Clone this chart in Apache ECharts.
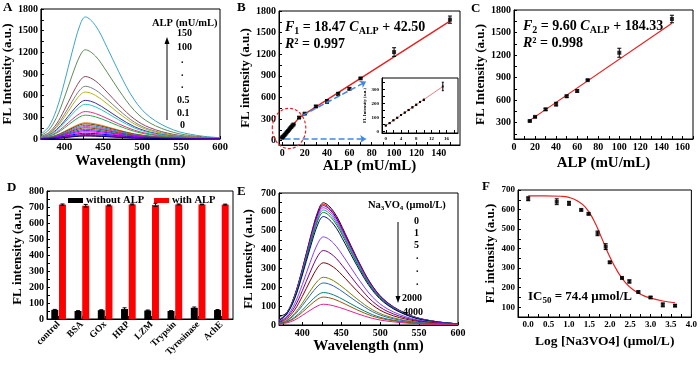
<!DOCTYPE html>
<html>
<head>
<meta charset="utf-8">
<script src="https://cdn.jsdelivr.net/npm/echarts@6/dist/echarts.min.js"></script>
<style>
html,body{margin:0;padding:0;background:#fff;}
#main{width:700px;height:365px;}
</style>
</head>
<body>
<div id="main"></div>
<script>
var FONT = '"Liberation Serif","Times New Roman",serif';

// A: emission spectra vs ALP
var waveA = [370,380,390,400,410,420,427,440,455,470,490,510,540,570,600];
var specA = [
	[68,169,406,777,1200,1572,1690,1572,1268,930,541,304,127,51,17],
	[49,124,296,568,877,1149,1235,1149,926,679,395,222,93,37,12],
	[35,87,208,398,614,804,865,804,649,476,277,156,65,26,9],
	[29,73,175,336,518,679,730,679,548,402,234,131,55,22,7],
	[26,65,156,299,462,605,650,605,488,358,208,117,49,20,7],
	[21,54,128,246,380,498,535,498,401,294,171,96,40,16,5],
	[19,48,115,221,341,446,480,446,360,264,154,86,36,14,5],
	[15,38,91,175,270,353,380,353,285,209,122,68,29,11,4],
	[13,33,79,152,234,307,330,307,248,182,106,59,25,10,3],
	[9,23,54,104,160,209,225,209,169,124,72,41,17,7,2],
	[8,21,50,97,149,195,210,195,158,116,67,38,16,6,2],
	[8,19,46,87,135,177,190,177,143,105,61,34,14,6,2],
	[7,17,41,79,122,160,172,160,129,95,55,31,13,5,2],
	[6,16,37,71,110,144,155,144,116,85,50,28,12,5,2],
	[5,14,32,62,96,126,135,126,101,74,43,24,10,4,1],
	[5,12,28,54,83,109,117,109,88,64,37,21,9,4,1],
	[4,10,24,46,71,93,100,93,75,55,32,18,8,3,1],
	[3,8,19,37,57,74,80,74,60,44,26,14,6,2,1],
	[2,6,15,29,44,58,62,58,47,34,20,11,5,2,1],
	[2,5,12,24,37,48,52,48,39,29,17,9,4,2,1],
	[2,5,11,21,32,42,45,42,34,25,14,8,3,1,0],
	[2,4,10,19,30,39,42,39,32,23,13,8,3,1,0]
];
var colorsA = ['#3ba5c4','#5e8c5a','#8b4a5a','#808080','#b5b520','#3a2fa0','#2ec4c4','#e0308a','#22b04a',
	'#e08020','#7b3f00','#2080d0','#c040c0','#804000','#008080','#8000ff','#ff00ff','#0000ff','#800080','#c000c0','#a020f0','#000080'];

// B: calibration, full range
var alpB = [0,0.1,0.5,1,2,3,4,5,6,7,8,9,10,15,20,30,40,50,60,70,100,150];
var flB  = [42,45,52,60,80,98,117,135,153,172,190,210,225,320,375,475,545,650,720,865,1230,1680];
var errB = [3,3,3,3,3,3,4,4,4,4,4,5,5,12,10,15,25,20,15,10,60,50];
var fitBx = [0,15,150];
var fitBy = [42.5,319.6,1660];

// B inset: low range
var alpIn = [0,1,2,3,4,5,6,7,8,9,10,15];
var flIn  = [43,60,80,98,117,135,153,172,190,210,225,320];
var errIn = [3,3,3,3,3,3,4,4,4,4,5,30];
var fitInx = [0,15];
var fitIny = [42.5,319.6];

// C: calibration, high range
var alpC = [15,20,30,40,50,60,70,100,150];
var flC  = [320,375,475,545,650,720,865,1230,1680];
var errC = [10,10,15,25,15,15,10,60,50];
var fitCx = [15,150];
var fitCy = [328.3,1624.3];

// D: selectivity
var enzymes = ['control','BSA','GOx','HRP','LZM','Trypsin','Tyrosinase','AchE'];
var withoutALP = [57,50,55,62,53,50,70,56];
var withoutErr = [3,2,3,8,3,2,5,3];
var withALP = [715,708,710,716,713,716,716,715];
var withErr = [4,8,3,3,10,3,2,3];

// E: spectra vs Na3VO4
var waveE = [370,380,390,400,410,420,427,440,455,470,490,510,540,570,600];
var specE = [
	[45,65,156,298,460,603,648,603,486,356,207,117,49,19,6],
	[26,64,154,294,454,595,640,595,480,352,205,115,48,19,6],
	[25,63,152,291,449,589,633,589,475,348,203,114,47,19,6],
	[25,62,149,286,442,578,622,578,467,342,199,112,47,19,6],
	[24,61,146,281,433,567,610,567,458,336,195,110,46,18,6],
	[24,60,143,275,424,555,597,555,448,328,191,107,45,18,6],
	[23,58,138,265,408,535,575,535,431,316,184,104,43,17,6],
	[19,47,112,215,332,434,467,434,350,257,149,84,35,14,5],
	[16,40,95,182,280,367,395,367,296,217,126,71,30,12,4],
	[13,33,79,152,234,307,330,307,248,182,106,59,25,10,3],
	[10,25,61,116,180,235,253,235,190,139,81,46,19,8,3],
	[9,22,54,103,158,207,223,207,167,123,71,40,17,7,2],
	[7,17,41,79,122,160,172,160,129,95,55,31,13,5,2],
	[6,15,36,68,105,138,148,138,111,81,47,27,11,4,1],
	[4,11,26,51,78,102,110,102,83,61,35,20,8,3,1]
];
var colorsE = ['#000000','#ff0000','#0000ff','#ff00ff','#00a0a0','#008000','#000080','#8040ff','#800080',
	'#800000','#808000','#3060c0','#008080','#a05000','#e0208e'];

// F: inhibition
var logV = [0,0.7,1.0,1.3,1.48,1.7,1.9,2.0,2.3,2.48,2.7,3.0,3.3,3.6];
var flF  = [655,640,632,598,578,478,410,330,250,232,178,150,112,108];
var errF = [10,15,10,5,5,12,15,5,5,8,5,5,10,5];
var fitFx = [0,0.4,0.8,1.0,1.2,1.4,1.6,1.8,2.0,2.2,2.4,2.6,2.8,3.0,3.3,3.6];
var fitFy = [670,670,668,662,645,612,548,455,358,280,222,186,162,147,132,123];

function seq(a,b,s){
	var r=[];
	for(var v=a;v<=b+1e-9;v+=s){ r.push(+v.toFixed(4)); }
	return r;
}
function zip(xs,ys){
	return xs.map(function(x,i){ return [x,ys[i]]; });
}
//坐标轴
function axis(grid,min,max,labels,ticks,fs,extra,fmt){
	var o = {
		gridIndex:grid, type:'value', min:min, max:max,
		axisLine:{show:true,onZero:false,lineStyle:{color:'#000',width:1}},
		axisTick:{show:true,inside:true,length:3,customValues:ticks,lineStyle:{color:'#000',width:1}},
		axisLabel:{customValues:labels,color:'#000',fontFamily:FONT,fontWeight:'bold',fontSize:fs||10,margin:3,
			formatter:fmt||function(v){ return String(v); }},
		splitLine:{show:false},
		nameLocation:'middle',
		nameTextStyle:{color:'#000',fontFamily:FONT,fontWeight:'bold',fontSize:13}
	};
	if(extra){ for(var k in extra){ o[k]=extra[k]; } }
	return o;
}
function nameStyle(fs){
	return {color:'#000',fontFamily:FONT,fontWeight:'bold',fontSize:fs};
}
//误差棒
function errSeries(xi,yi,xs,ys,es,cap){
	return {
		type:'custom', xAxisIndex:xi, yAxisIndex:yi, z:6,
		encode:{x:0,y:1},
		data:xs.map(function(x,i){ return [x,ys[i],es[i]]; }),
		renderItem:function(p,api){
			var x=api.value(0),y=api.value(1),e=api.value(2);
			var t=api.coord([x,y+e]),b=api.coord([x,y-e]);
			var st={stroke:'#000',lineWidth:1};
			return {type:'group',children:[
				{type:'line',shape:{x1:t[0],y1:t[1],x2:b[0],y2:b[1]},style:st},
				{type:'line',shape:{x1:t[0]-cap,y1:t[1],x2:t[0]+cap,y2:t[1]},style:st},
				{type:'line',shape:{x1:b[0]-cap,y1:b[1],x2:b[0]+cap,y2:b[1]},style:st}
			]};
		}
	};
}
function barErr(yi,vals,errs,offset){
	return {
		type:'custom', xAxisIndex:3, yAxisIndex:yi, z:6,
		encode:{x:0,y:1},
		data:vals.map(function(v,i){ return [i,v,errs[i]]; }),
		renderItem:function(p,api){
			var band=api.size([1,0])[0];
			var i=api.value(0),v=api.value(1),e=api.value(2);
			var t=api.coord([i,v+e]),b=api.coord([i,v-e]);
			var x=t[0]+offset*band, st={stroke:'#000',lineWidth:1};
			return {type:'group',children:[
				{type:'line',shape:{x1:x,y1:t[1],x2:x,y2:b[1]},style:st},
				{type:'line',shape:{x1:x-2,y1:t[1],x2:x+2,y2:t[1]},style:st},
				{type:'line',shape:{x1:x-2,y1:b[1],x2:x+2,y2:b[1]},style:st}
			]};
		}
	};
}
function pts(xi,yi,xs,ys,size){
	return {type:'scatter',xAxisIndex:xi,yAxisIndex:yi,symbol:'rect',symbolSize:size||4,z:7,
		itemStyle:{color:'#000'},data:zip(xs,ys)};
}
function fitLine(xi,yi,xs,ys,w,smooth,color){
	return {type:'line',xAxisIndex:xi,yAxisIndex:yi,showSymbol:false,smooth:smooth||false,z:4,
		lineStyle:{color:color||'#e82020',width:w||1.2},data:zip(xs,ys)};
}

var frame = {show:true,borderColor:'#000',borderWidth:1,backgroundColor:'transparent'};
function grid(l,t,w,h){
	var g={left:l,top:t,width:w,height:h};
	for(var k in frame){ g[k]=frame[k]; }
	return g;
}
var oneDec = function(v){ return v.toFixed(1); };

var option = {
	backgroundColor:'#fff',
	animation:false,
	grid:[
		grid(40,9,180,130),    // A
		grid(279,11,181,134),  // B
		grid(514,10,179,129),  // C
		grid(47,191,186,128),  // D
		grid(279,193,179,132), // E
		grid(518,190,175,127), // F
		grid(382,78,76,55)     // B inset
	],
	xAxis:[
		axis(0,370,600,seq(400,600,50),seq(375,600,25),10.5,{name:'Wavelength (nm)',nameGap:14,nameTextStyle:nameStyle(15)}),
		axis(1,-3,159,seq(0,140,20),seq(0,150,10),10,{name:'ALP (mU/mL)',nameGap:12,nameTextStyle:nameStyle(15)}),
		axis(2,0,170,seq(0,160,20),seq(0,170,10),10,{name:'ALP (mU/mL)',nameGap:17,nameTextStyle:nameStyle(15)}),
		{gridIndex:3,type:'category',data:enzymes,
			axisLine:{show:true,lineStyle:{color:'#000'}},
			axisTick:{show:true,inside:true,length:3,alignWithLabel:true,lineStyle:{color:'#000'}},
			axisLabel:{rotate:45,color:'#000',fontFamily:FONT,fontWeight:'bold',fontSize:9.5,margin:4,interval:0},
			splitLine:{show:false}},
		axis(4,370,600,seq(400,600,50),seq(375,600,25),10,{name:'Wavelength (nm)',nameGap:11,nameTextStyle:nameStyle(15)}),
		axis(5,-0.25,4,seq(0,4,0.5),seq(0,4,0.25),9,{name:'Log [Na3VO4] (\u03bcmol/L)',nameGap:18,nameTextStyle:nameStyle(13.5)},oneDec),
		axis(6,-1,19,seq(0,16,4),seq(0,18,2),5,{})
	],
	yAxis:[
		axis(0,0,1800,seq(0,1800,300),seq(0,1800,150),10,{name:'FL Intensity (a.u.)',nameGap:23}),
		axis(1,-60,1800,seq(0,1800,300),seq(0,1800,150),10,{name:'FL intensity (a.u.)',nameGap:20}),
		axis(2,80,1800,seq(300,1800,300),seq(150,1800,150),10,{name:'FL Intensity (a.u.)',nameGap:20}),
		axis(3,0,800,seq(0,800,100),seq(0,800,50),10,{name:'FL intensity (a.u.)',nameGap:23}),
		axis(4,0,700,seq(0,700,100),seq(0,700,50),10,{name:'FL intensity (a.u.)',nameGap:24}),
		axis(5,50,700,seq(100,700,100),seq(50,700,50),9,{name:'FL intensity (a.u.)',nameGap:21}),
		axis(6,-10,380,seq(0,300,100),seq(0,350,50),5,{name:'FL Intensity (a.u.)',nameGap:10,nameTextStyle:nameStyle(4.5)})
	],
	legend:{
		left:63, top:190, itemWidth:15, itemHeight:5, itemGap:10,
		data:['without ALP','with ALP'],
		textStyle:{color:'#000',fontFamily:FONT,fontWeight:'bold',fontSize:10.5,padding:[0,0,0,-2]},
		icon:'rect'
	},
	series:[]
};

var S = option.series;
specA.forEach(function(s,i){
	S.push({type:'line',xAxisIndex:0,yAxisIndex:0,showSymbol:false,smooth:0.35,z:3,
		lineStyle:{width:1,color:colorsA[i]},data:zip(waveA,s)});
});
// B
S.push(fitLine(1,1,fitBx,fitBy,1.4));
S.push(errSeries(1,1,alpB,flB,errB,2));
S.push(pts(1,1,alpB,flB,4));
S.push({type:'lines',coordinateSystem:'cartesian2d',xAxisIndex:1,yAxisIndex:1,z:8,
	symbol:['none','arrow'],symbolSize:6,
	lineStyle:{color:'#3f86e6',type:'dashed',width:1.5,opacity:1},
	data:[{coords:[[18,350],[75,820]]},{coords:[[2,25],[75,25]]}]});
// inset
S.push(fitLine(6,6,fitInx,fitIny,0.8,false,'#e06060'));
S.push(errSeries(6,6,alpIn,flIn,errIn,1));
S.push(pts(6,6,alpIn,flIn,2));
// C
S.push(fitLine(2,2,fitCx,fitCy,1.2));
S.push(errSeries(2,2,alpC,flC,errC,2));
S.push(pts(2,2,alpC,flC,4));
// D
S.push({type:'bar',name:'without ALP',xAxisIndex:3,yAxisIndex:3,barWidth:'30%',barGap:'10%',
	itemStyle:{color:'#000'},data:withoutALP});
S.push({type:'bar',name:'with ALP',xAxisIndex:3,yAxisIndex:3,barWidth:'30%',barGap:'10%',
	itemStyle:{color:'#ff0000'},data:withALP});
S.push(barErr(3,withoutALP,withoutErr,-0.165));
S.push(barErr(3,withALP,withErr,0.165));
// E
specE.forEach(function(s,i){
	S.push({type:'line',xAxisIndex:4,yAxisIndex:4,showSymbol:false,smooth:0.35,z:3,
		lineStyle:{width:1,color:colorsE[i]},data:zip(waveE,s)});
});
// F
S.push(fitLine(5,5,fitFx,fitFy,1.2,true));
S.push(errSeries(5,5,logV,flF,errF,2));
S.push(pts(5,5,logV,flF,4));

var myChart = echarts.init(document.getElementById('main'));
myChart.setOption(option);

//文字标注
function txt(x,y,s,fs,extra){
	var st={text:s,x:x,y:y,fill:'#000',fontFamily:FONT,fontWeight:'bold',fontSize:fs,verticalAlign:'middle'};
	if(extra){ for(var k in extra){ st[k]=extra[k]; } }
	return {type:'text',z:50,style:st};
}
function richTxt(x,y,s,fs){
	return {type:'text',z:50,style:{text:s,x:x,y:y,fill:'#000',verticalAlign:'middle',
		rich:{
			n:{fontFamily:FONT,fontWeight:'bold',fontSize:fs,verticalAlign:'middle'},
			i:{fontFamily:FONT,fontWeight:'bold',fontStyle:'italic',fontSize:fs,verticalAlign:'middle'},
			s:{fontFamily:FONT,fontWeight:'bold',fontSize:Math.round(fs*0.68),verticalAlign:'middle',padding:[Math.round(fs*0.6),0,0,0]}
		}}};
}
function arrow(x,y1,y2,color){
	var dir = y2<y1 ? -1 : 1;
	return [
		{type:'line',z:50,shape:{x1:x,y1:y1,x2:x,y2:y2-dir*6},style:{stroke:color,lineWidth:1}},
		{type:'polygon',z:50,shape:{points:[[x,y2],[x-2.5,y2-dir*7],[x+2.5,y2-dir*7]]},style:{fill:color}}
	];
}

var G = [];
G.push(txt(3,8,'A',13));
G.push(txt(237,8,'B',13));
G.push(txt(471,9,'C',13));
G.push(txt(7,188,'D',13));
G.push(txt(237,192,'E',13));
G.push(txt(482,187,'F',13));
// A legend
G.push(txt(152,23,'ALP (mU/mL)',10.5));
G.push(txt(177,33,'150',10));
G.push(txt(177,47,'100',10));
G.push(txt(181,60,'.',10));
G.push(txt(181,73,'.',10));
G.push(txt(181,85,'.',10));
G.push(txt(177,100,'0.5',10));
G.push(txt(177,113,'0.1',10));
G.push(txt(180,125,'0',10));
G = G.concat(arrow(167,120,37,'#000'));
// B, C equations
G.push(richTxt(285,27,'{i|F}{s|1}{n| = 18.47 }{i|C}{s|ALP}{n| + 42.50}',14));
G.push(richTxt(285,44,'{i|R}{n|\u00b2 = 0.997}',14));
G.push(richTxt(523,26,'{i|F}{s|2}{n| = 9.60 }{i|C}{s|ALP}{n| + 184.33}',14));
G.push(richTxt(523,43,'{i|R}{n|\u00b2 = 0.998}',14));
// E legend
G.push(richTxt(368,205,'{n|Na}{s|3}{n|VO}{s|4}{n| (\u03bcmol/L)}',10.5));
G.push(txt(414,221,'0',10));
G.push(txt(414,233,'1',10));
G.push(txt(414,245,'5',10));
G.push(txt(416,256,'.',10));
G.push(txt(416,269,'.',10));
G.push(txt(416,282,'.',10));
G.push(txt(402,298,'2000',10));
G.push(txt(403,312,'4000',10));
G = G.concat(arrow(398,222,303,'#000'));
// F
G.push(richTxt(528,297,'{n|IC}{s|50}{n| = 74.4 \u03bcmol/L}',13));
// B ring around low range
var c = myChart.convertToPixel({gridIndex:1},[6,170]);
var r = myChart.convertToPixel({gridIndex:1},[21,450]);
G.push({type:'ellipse',z:9,shape:{cx:c[0],cy:c[1],rx:r[0]-c[0],ry:c[1]-r[1]},
	style:{fill:'none',stroke:'#e82020',lineWidth:1.2,lineDash:[3,2]}});

myChart.setOption({graphic:G});
window.onresize = myChart.resize;
</script>
</body>
</html>
